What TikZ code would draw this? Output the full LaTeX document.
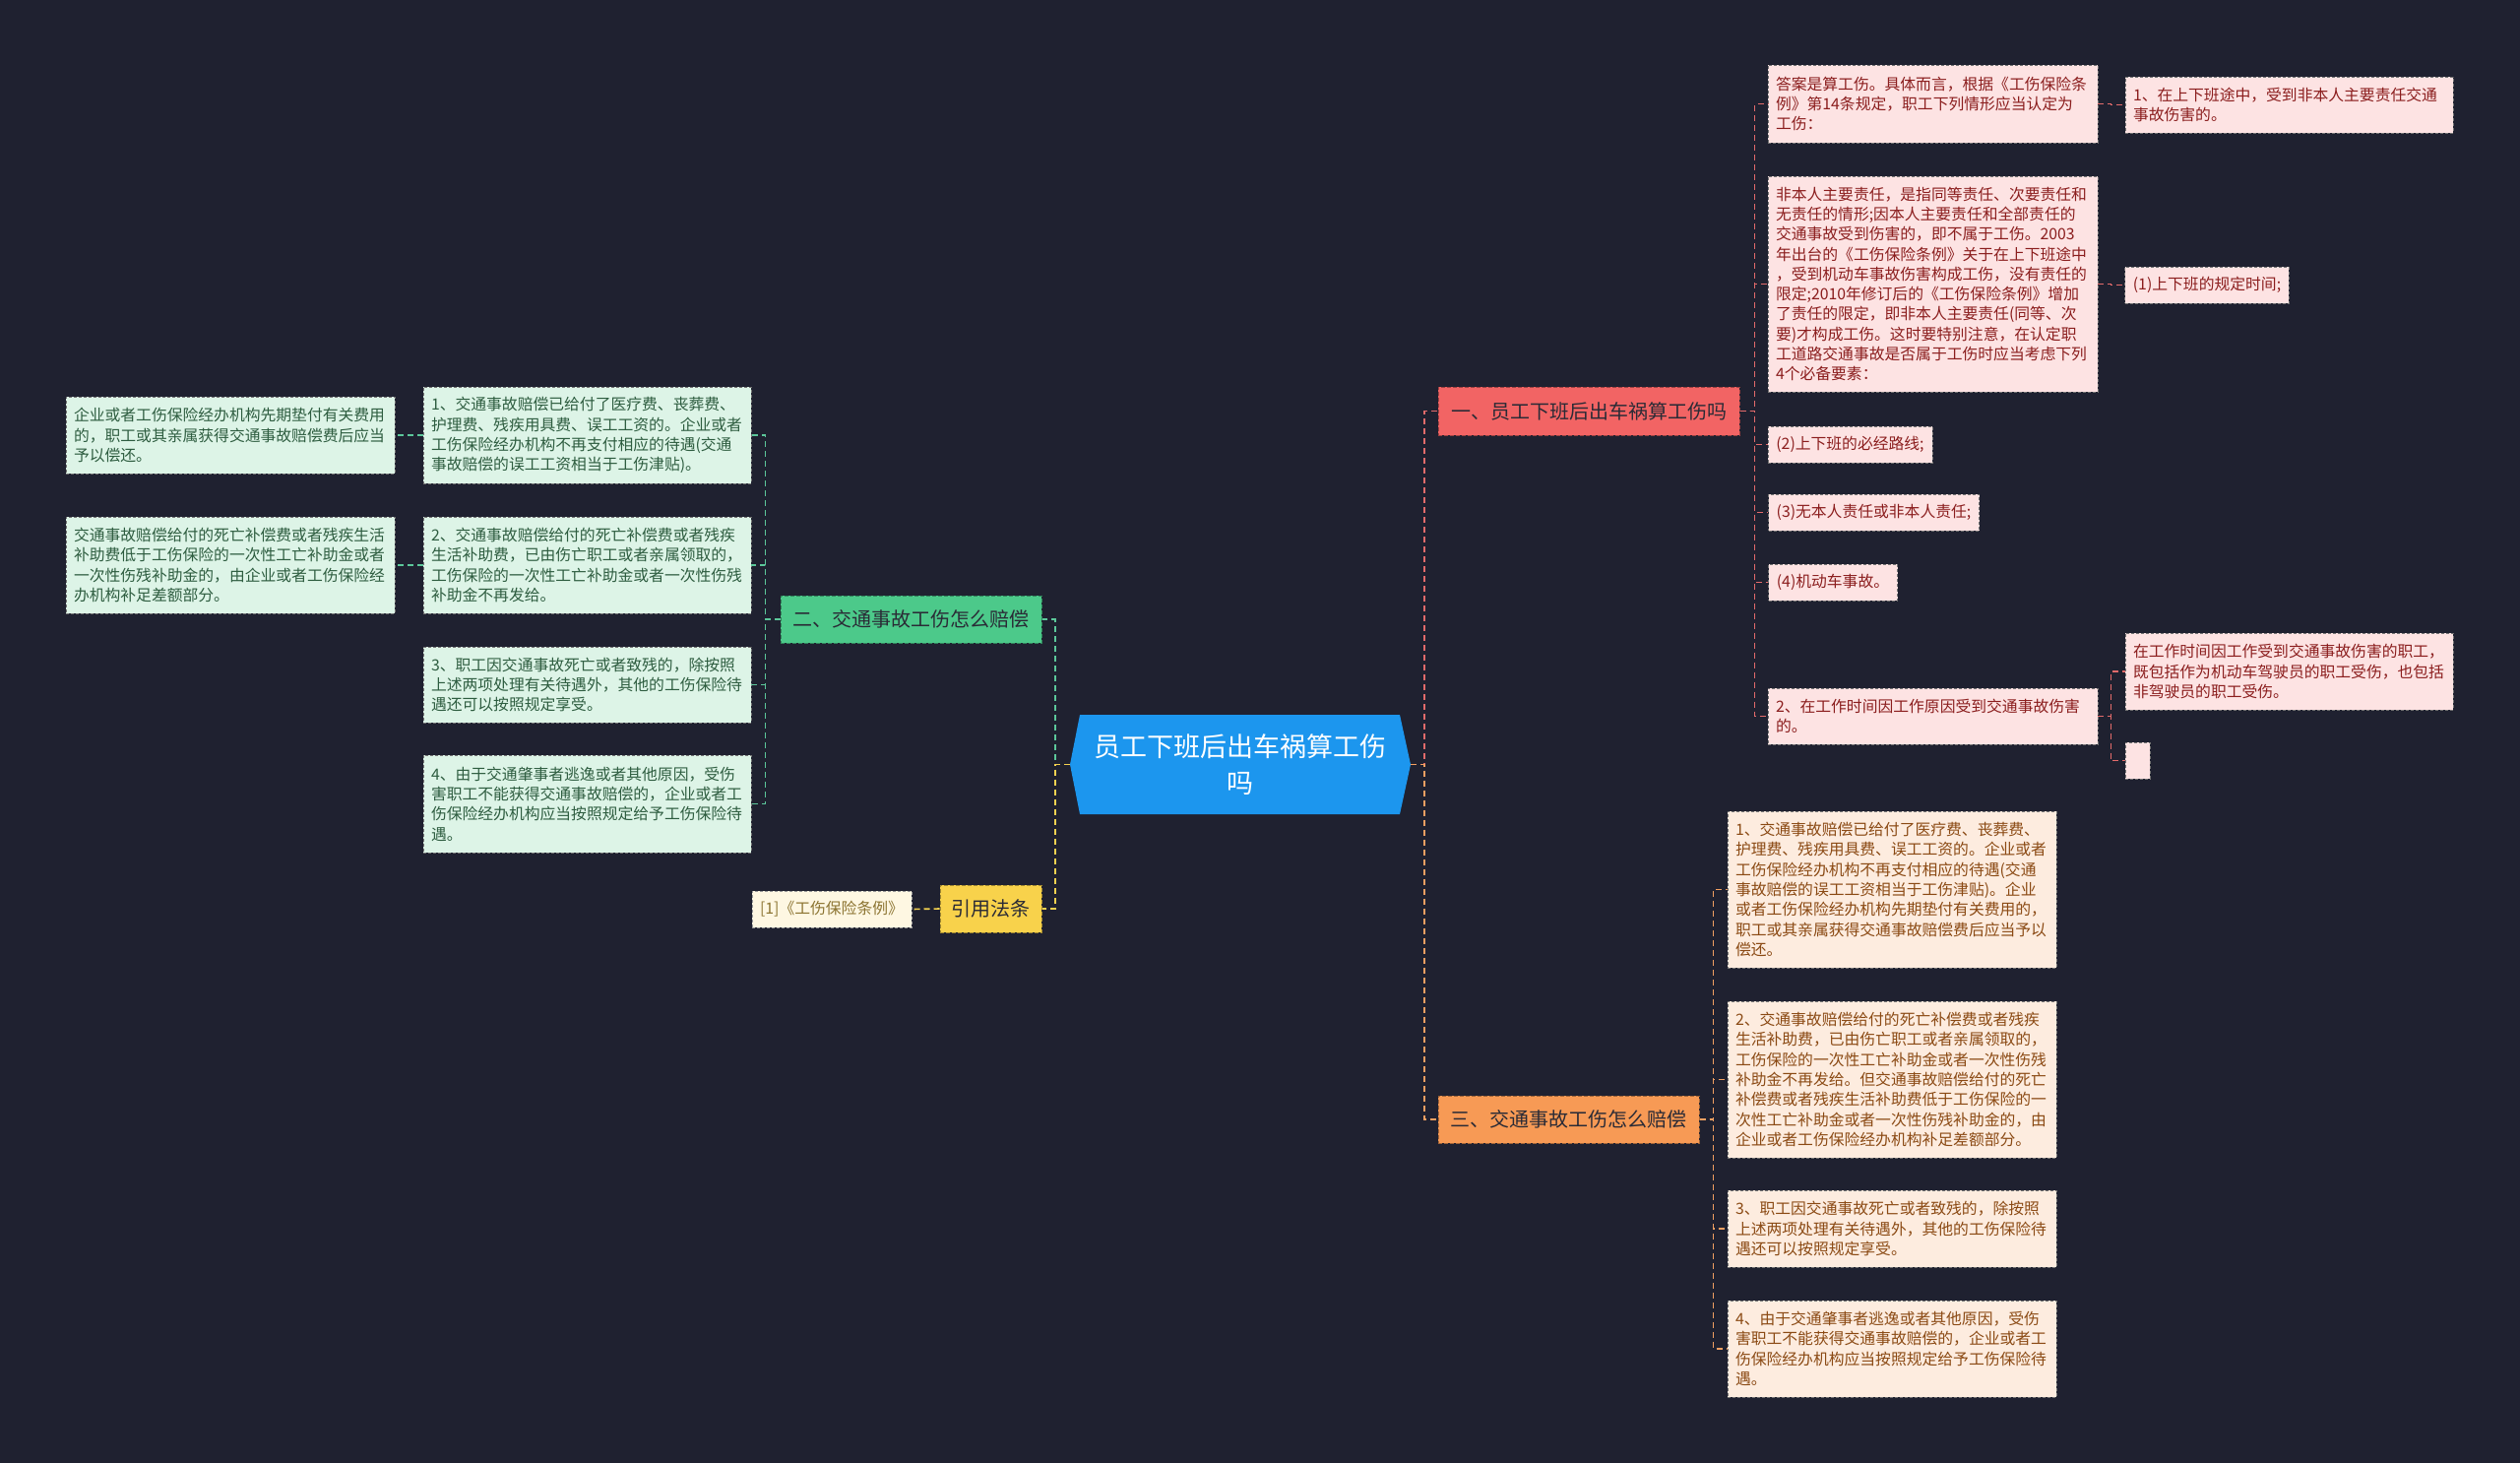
\documentclass[tikz,border=0pt]{standalone}
\usepackage{fontspec}
\setmainfont{Noto Sans CJK SC}
\definecolor{bg}{HTML}{1F2130}
\definecolor{rootblue}{HTML}{1C96EE}
\definecolor{redfill}{HTML}{F26464}
\definecolor{greenfill}{HTML}{4CC98A}
\definecolor{orangefill}{HTML}{F79A55}
\definecolor{yellowfill}{HTML}{F8D24B}
\definecolor{pinkleaf}{HTML}{FDE3E3}
\definecolor{pinktext}{HTML}{8B1E1E}
\definecolor{orangeleaf}{HTML}{FDECDF}
\definecolor{orangetext}{HTML}{8B4A14}
\definecolor{greenleaf}{HTML}{DDF4E7}
\definecolor{greentext}{HTML}{2E5D40}
\definecolor{refleaf}{HTML}{FEF7E2}
\definecolor{reftext}{HTML}{8C7431}
\definecolor{redline}{HTML}{E36B6B}
\definecolor{orangeline}{HTML}{F2A062}
\definecolor{greenline}{HTML}{5CC79A}
\definecolor{yellowline}{HTML}{F3D250}
\definecolor{darktext}{HTML}{2A2B36}
\tikzset{
  conn/.style={line width=1.6pt, dash pattern=on 6pt off 4pt},
  leafbase/.style={rectangle, line width=0.9pt, dash pattern=on 3pt off 2pt,
    inner xsep=8pt, inner ysep=2pt, align=left,
    font=\fontsize{15.8}{20.3}\selectfont},
  pinkleafs/.style={leafbase, fill=pinkleaf, draw=black!55, text=pinktext},
  orangeleafs/.style={leafbase, fill=orangeleaf, draw=black!55, text=orangetext},
  greenleafs/.style={leafbase, fill=greenleaf, draw=black!55, text=greentext},
  refleafs/.style={leafbase, fill=refleaf, draw=black!40, text=reftext},
  branch/.style={rectangle, line width=1pt, dash pattern=on 4pt off 2pt,
    inner sep=0pt, text=darktext, font=\fontsize{20}{24}\selectfont},
}
\begin{document}
\begin{tikzpicture}[x=1pt,y=-1pt]
\useasboundingbox (0,0) rectangle (2560,1486);
\fill[bg] (0,0) rectangle (2560,1486);

% root
\node (root) [minimum width=346pt, minimum height=101pt, inner sep=0pt, text=white,
  align=center, font=\fontsize{27}{37}\selectfont,
  path picture={\fill[rootblue] ([xshift=10pt]path picture bounding box.north west)
    -- ([xshift=-11pt]path picture bounding box.north east)
    -- (path picture bounding box.east)
    -- ([xshift=-11pt]path picture bounding box.south east)
    -- ([xshift=10pt]path picture bounding box.south west)
    -- (path picture bounding box.west) -- cycle;}]
  at (1260,776.5) {员工下班后出车祸算工伤\\吗};

% branches
\node[branch, fill=redfill, draw=redfill!65!black, minimum width=306pt, minimum height=49pt] (b1) at (1614,417.5) {一、员工下班后出车祸算工伤吗};
\node[branch, fill=orangefill, draw=orangefill!65!black, minimum width=265pt, minimum height=48pt] (b3) at (1593.5,1137) {三、交通事故工伤怎么赔偿};
\node[branch, fill=greenfill, draw=greenfill!65!black, minimum width=265pt, minimum height=48pt] (b2) at (925.5,629) {二、交通事故工伤怎么赔偿};
\node[branch, fill=yellowfill, draw=yellowfill!65!black, minimum width=103pt, minimum height=48pt] (law) at (1006.5,923) {引用法条};
\node[refleafs, minimum width=162pt, minimum height=37pt, inner xsep=4pt] (ref) at (845,923.5) {[1]《工伤保险条例》};

% branch 1 leaves
\node[pinkleafs, text width=319pt, minimum height=79pt] (a1) at (1963.5,105.5) {答案是算工伤。具体而言，根据《工伤保险条\\例》第14条规定，职工下列情形应当认定为\\工伤：};
\node[pinkleafs, text width=317pt, minimum height=57pt] (a1c) at (2325.5,106.5) {1、在上下班途中，受到非本人主要责任交通\\事故伤害的。};
\node[pinkleafs, text width=319pt, minimum height=219pt] (a2) at (1963.5,288.5) {非本人主要责任，是指同等责任、次要责任和\\无责任的情形;因本人主要责任和全部责任的\\交通事故受到伤害的，即不属于工伤。2003\\年出台的《工伤保险条例》关于在上下班途中\\，受到机动车事故伤害构成工伤，没有责任的\\限定;2010年修订后的《工伤保险条例》增加\\了责任的限定，即非本人主要责任(同等、次\\要)才构成工伤。这时要特别注意，在认定职\\工道路交通事故是否属于工伤时应当考虑下列\\4个必备要素：};
\node[pinkleafs, minimum width=166pt, minimum height=37pt] (a2c) at (2242,289.5) {(1)上下班的规定时间;};
\node[pinkleafs, minimum width=167pt, minimum height=37pt] (a3) at (1879.5,451.5) {(2)上下班的必经路线;};
\node[pinkleafs, minimum width=214pt, minimum height=37pt] (a4) at (1903.5,520.5) {(3)无本人责任或非本人责任;};
\node[pinkleafs, minimum width=131pt, minimum height=37pt] (a5) at (1862,591.5) {(4)机动车事故。};
\node[pinkleafs, text width=319pt, minimum height=57pt] (a6) at (1963.5,727.5) {2、在工作时间因工作原因受到交通事故伤害\\的。};
\node[pinkleafs, text width=317pt, minimum height=78pt] (a6a) at (2325.5,682) {在工作时间因工作受到交通事故伤害的职工，\\既包括作为机动车驾驶员的职工受伤，也包括\\非驾驶员的职工受伤。};
\node[pinkleafs, minimum width=25pt, minimum height=37pt, inner xsep=0pt] (a6b) at (2171.5,772.5) {};

% branch 3 leaves
\node[orangeleafs, text width=318pt, minimum height=159pt] (c31) at (1922,903.5) {1、交通事故赔偿已给付了医疗费、丧葬费、\\护理费、残疾用具费、误工工资的。企业或者\\工伤保险经办机构不再支付相应的待遇(交通\\事故赔偿的误工工资相当于工伤津贴)。企业\\或者工伤保险经办机构先期垫付有关费用的，\\职工或其亲属获得交通事故赔偿费后应当予以\\偿还。};
\node[orangeleafs, text width=318pt, minimum height=159pt] (c32) at (1922,1096.5) {2、交通事故赔偿给付的死亡补偿费或者残疾\\生活补助费，已由伤亡职工或者亲属领取的，\\工伤保险的一次性工亡补助金或者一次性伤残\\补助金不再发给。但交通事故赔偿给付的死亡\\补偿费或者残疾生活补助费低于工伤保险的一\\次性工亡补助金或者一次性伤残补助金的，由\\企业或者工伤保险经办机构补足差额部分。};
\node[orangeleafs, text width=318pt, minimum height=78pt] (c33) at (1922,1248) {3、职工因交通事故死亡或者致残的，除按照\\上述两项处理有关待遇外，其他的工伤保险待\\遇还可以按照规定享受。};
\node[orangeleafs, text width=318pt, minimum height=98pt] (c34) at (1922,1370) {4、由于交通肇事者逃逸或者其他原因，受伤\\害职工不能获得交通事故赔偿的，企业或者工\\伤保险经办机构应当按照规定给予工伤保险待\\遇。};

% branch 2 leaves
\node[greenleafs, text width=317pt, minimum height=98pt] (g1) at (596.5,442) {1、交通事故赔偿已给付了医疗费、丧葬费、\\护理费、残疾用具费、误工工资的。企业或者\\工伤保险经办机构不再支付相应的待遇(交通\\事故赔偿的误工工资相当于工伤津贴)。};
\node[greenleafs, text width=318pt, minimum height=78pt] (g1c) at (234,442) {企业或者工伤保险经办机构先期垫付有关费用\\的，职工或其亲属获得交通事故赔偿费后应当\\予以偿还。};
\node[greenleafs, text width=317pt, minimum height=98pt] (g2) at (596.5,574) {2、交通事故赔偿给付的死亡补偿费或者残疾\\生活补助费，已由伤亡职工或者亲属领取的，\\工伤保险的一次性工亡补助金或者一次性伤残\\补助金不再发给。};
\node[greenleafs, text width=318pt, minimum height=98pt] (g2c) at (234,574) {交通事故赔偿给付的死亡补偿费或者残疾生活\\补助费低于工伤保险的一次性工亡补助金或者\\一次性伤残补助金的，由企业或者工伤保险经\\办机构补足差额部分。};
\node[greenleafs, text width=317pt, minimum height=77pt] (g3) at (596.5,695.5) {3、职工因交通事故死亡或者致残的，除按照\\上述两项处理有关待遇外，其他的工伤保险待\\遇还可以按照规定享受。};
\node[greenleafs, text width=317pt, minimum height=99pt] (g4) at (596.5,816.5) {4、由于交通肇事者逃逸或者其他原因，受伤\\害职工不能获得交通事故赔偿的，企业或者工\\伤保险经办机构应当按照规定给予工伤保险待\\遇。};

% connectors
\draw[conn, redline] (root.east) -- ++(14,0) |- (b1.west);
\draw[conn, orangeline] (root.east) -- ++(14,0) |- (b3.west);
\draw[conn, greenline] (root.west) -- ++(-15,0) |- (b2.east);
\draw[conn, yellowline] (root.west) -- ++(-15,0) |- (law.east);
\draw[conn, yellowline] (law.west) -- (ref.east);

\foreach \n in {a1,a2,a3,a4,a5,a6}{
  \draw[conn, redline] (b1.east) -- ++(15,0) |- (\n.west);
}
\draw[conn, redline] (a1.east) -- ++(13,0) |- (a1c.west);
\draw[conn, redline] (a2.east) -- ++(13,0) |- (a2c.west);
\draw[conn, redline] (a6.east) -- ++(13,0) |- (a6a.west);
\draw[conn, redline] (a6.east) -- ++(13,0) |- (a6b.west);

\foreach \n in {c31,c32,c33,c34}{
  \draw[conn, orangeline] (b3.east) -- ++(14,0) |- (\n.west);
}
\foreach \n in {g1,g2,g3,g4}{
  \draw[conn, greenline] (b2.west) -- ++(-15,0) |- (\n.east);
}
\draw[conn, greenline] (g1.west) -- (g1c.east);
\draw[conn, greenline] (g2.west) -- (g2c.east);
\end{tikzpicture}
\end{document}
